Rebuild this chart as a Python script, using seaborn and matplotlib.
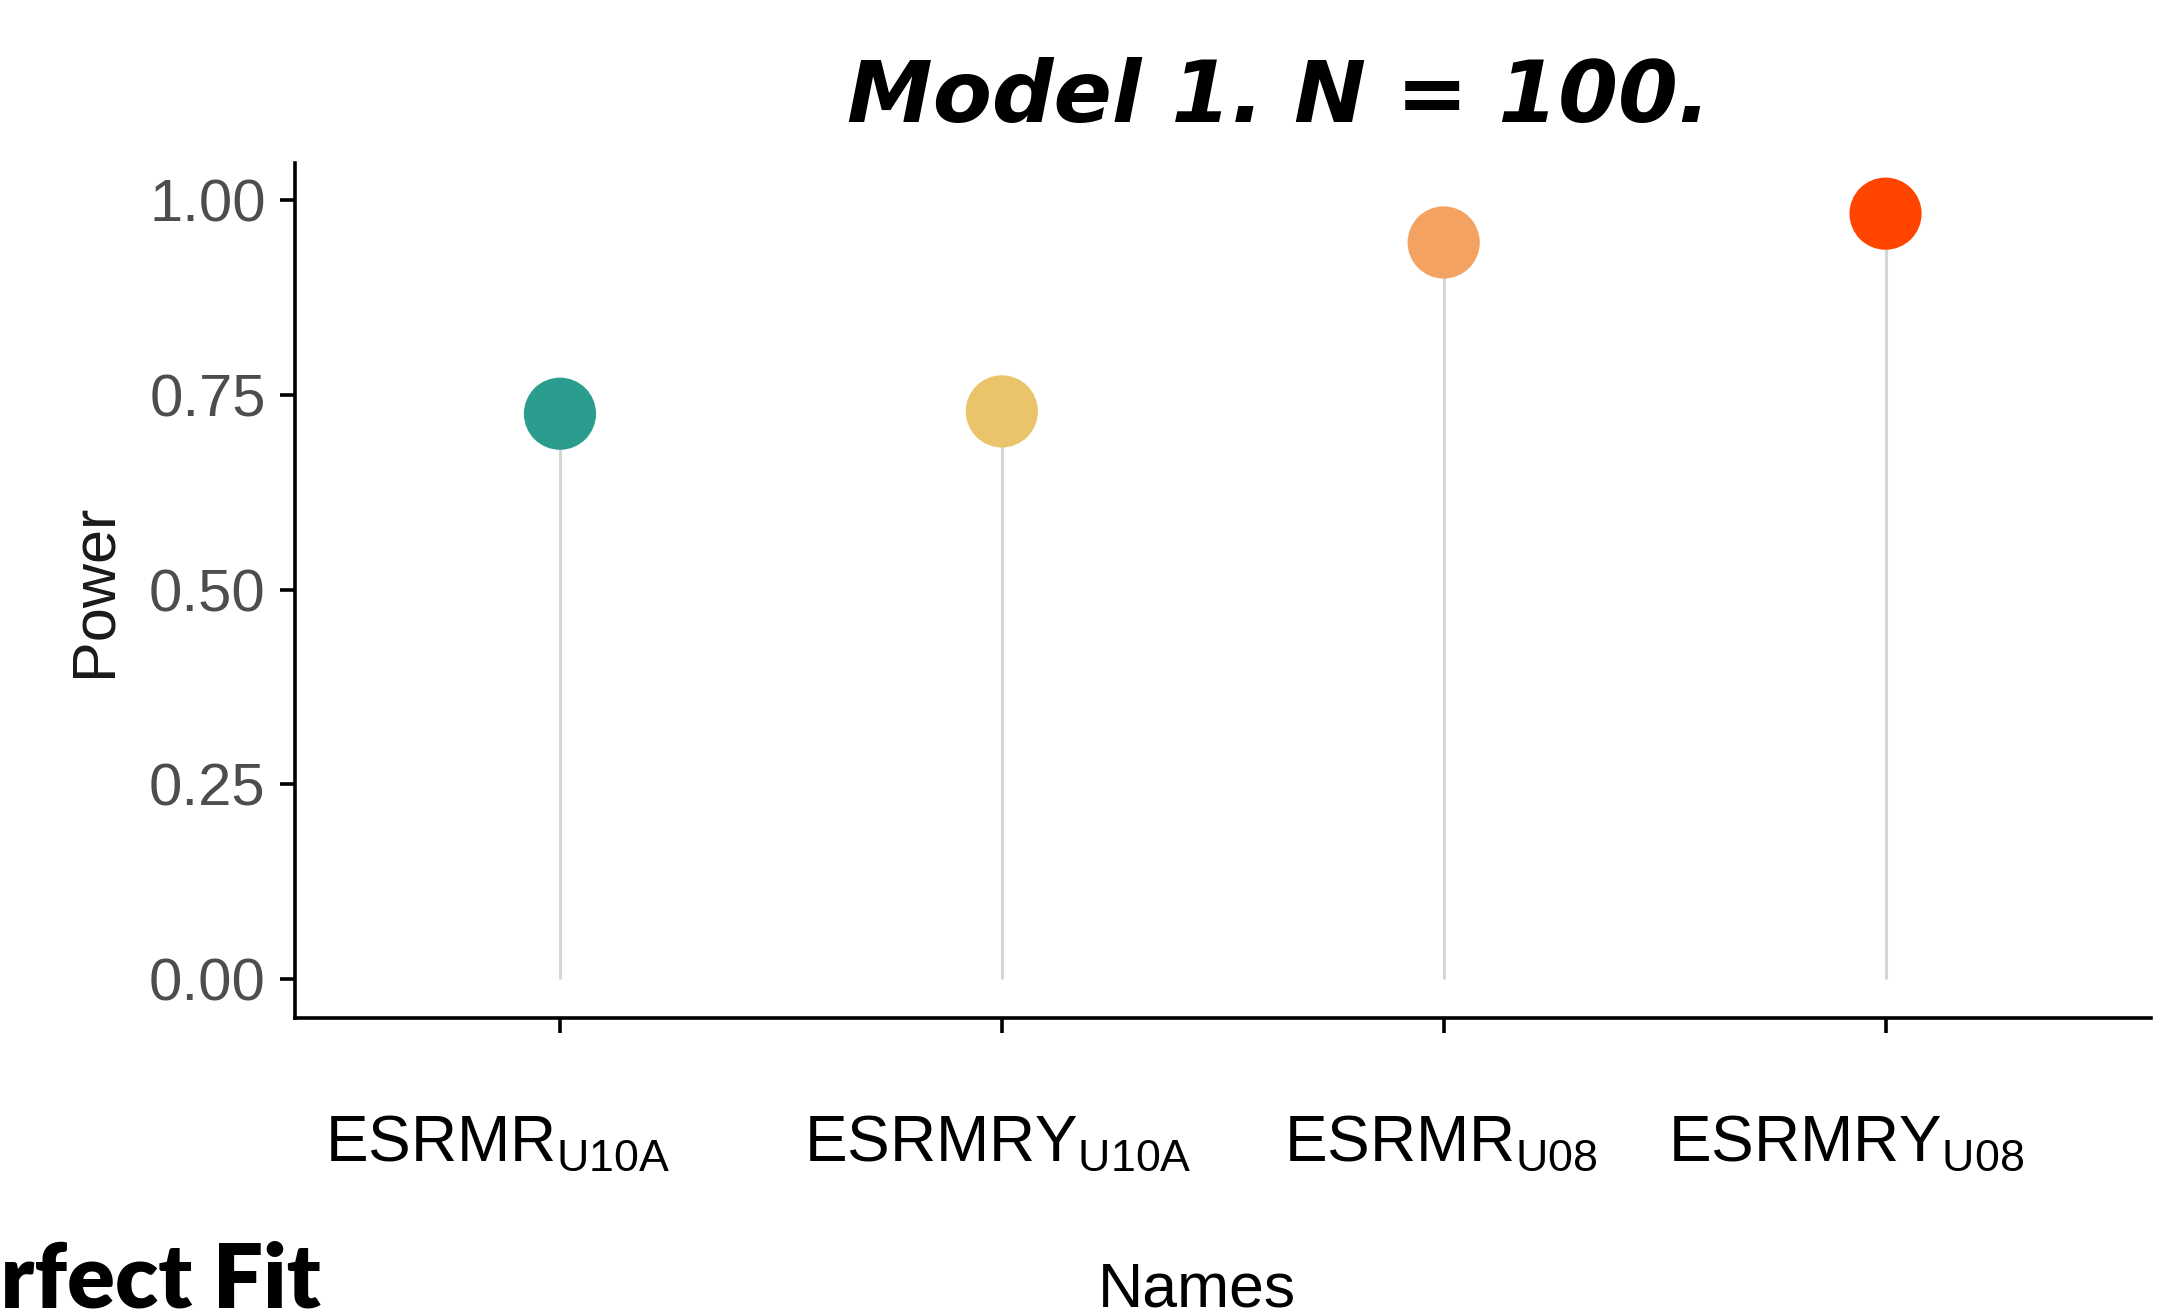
import matplotlib
matplotlib.use("Agg")
import matplotlib.pyplot as plt
import matplotlib.transforms as mtransforms
import seaborn as sns
import pandas as pd

categories = ["ESRMR$_{\\mathrm{U10A}}$", "ESRMRY$_{\\mathrm{U10A}}$",
              "ESRMR$_{\\mathrm{U08}}$", "ESRMRY$_{\\mathrm{U08}}$"]
keys = ["ESRMR_U10A", "ESRMRY_U10A", "ESRMR_U08", "ESRMRY_U08"]
power = [0.726, 0.729, 0.946, 0.983]
colors = ["#2A9D8F", "#E9C46A", "#F4A261", "#FF4500"]
yticks = [0.00, 0.25, 0.50, 0.75, 1.00]
ytick_labels = ["0.00", "0.25", "0.50", "0.75", "1.00"]

df = pd.DataFrame({"Names": keys, "Power": power})

sns.set_theme(style="white")
plt.rcParams["font.family"] = ["Liberation Sans", "DejaVu Sans"]
plt.rcParams["mathtext.fontset"] = "custom"
plt.rcParams["mathtext.rm"] = "Liberation Sans"

fig = plt.figure(figsize=(21.68, 13.15), dpi=100)
ax = fig.add_axes([0.136, 0.226, 0.856, 0.65])

ax.vlines(x=range(len(keys)), ymin=0, ymax=df["Power"], color="#D6D6D6", lw=2.2, zorder=1)
sns.scatterplot(data=df, x="Names", y="Power", hue="Names", palette=colors,
                s=2700, edgecolor="none", legend=False, ax=ax, zorder=3)

ax.set_xlim(-0.6, 3.6)
ax.set_ylim(-0.05, 1.048)
ax.set_yticks(yticks)
ax.set_yticklabels(ytick_labels, fontsize=43, color="#4D4D4D")
ax.set_xticks(range(len(keys)))
ax.set_xticklabels(categories, fontsize=46, color="black")

for s in ["top", "right"]:
    ax.spines[s].set_visible(False)
for s in ["left", "bottom"]:
    ax.spines[s].set_color("black")
    ax.spines[s].set_linewidth(2.6)
ax.tick_params(axis="both", which="both", bottom=True, left=True, length=11, width=2.6,
               color="black", direction="out")
ax.tick_params(axis="x", pad=58)
ax.tick_params(axis="y", pad=10)

# reference places labels slightly left of their ticks (applied after tick_params)
shifts_px = [-62, -4, -3, -40]
for tick, dx in zip(ax.xaxis.get_major_ticks(), shifts_px):
    lab = tick.label1
    lab.set_transform(lab.get_transform() + mtransforms.ScaledTranslation(dx / 100, 0, fig.dpi_scale_trans))

ax.set_xlabel("")
ax.set_ylabel("Power", fontsize=44, color="#1A1A1A", labelpad=18)

fig.text(0.552, 0.0065, "Names", fontsize=45, color="black", ha="center", va="baseline")

fig.text(0.59, 0.925, "Model 1. N = 100.", fontsize=62, fontweight="bold",
         fontstyle="italic", family=["DejaVu Sans"], color="black", ha="center", va="center")
fig.text(0.148, 0.006, "Perfect Fit", fontsize=64, fontweight="heavy", color="black",
         family=["Lato", "DejaVu Sans"], ha="right", va="baseline")

fig.savefig("out.png", dpi=100, facecolor="white")
